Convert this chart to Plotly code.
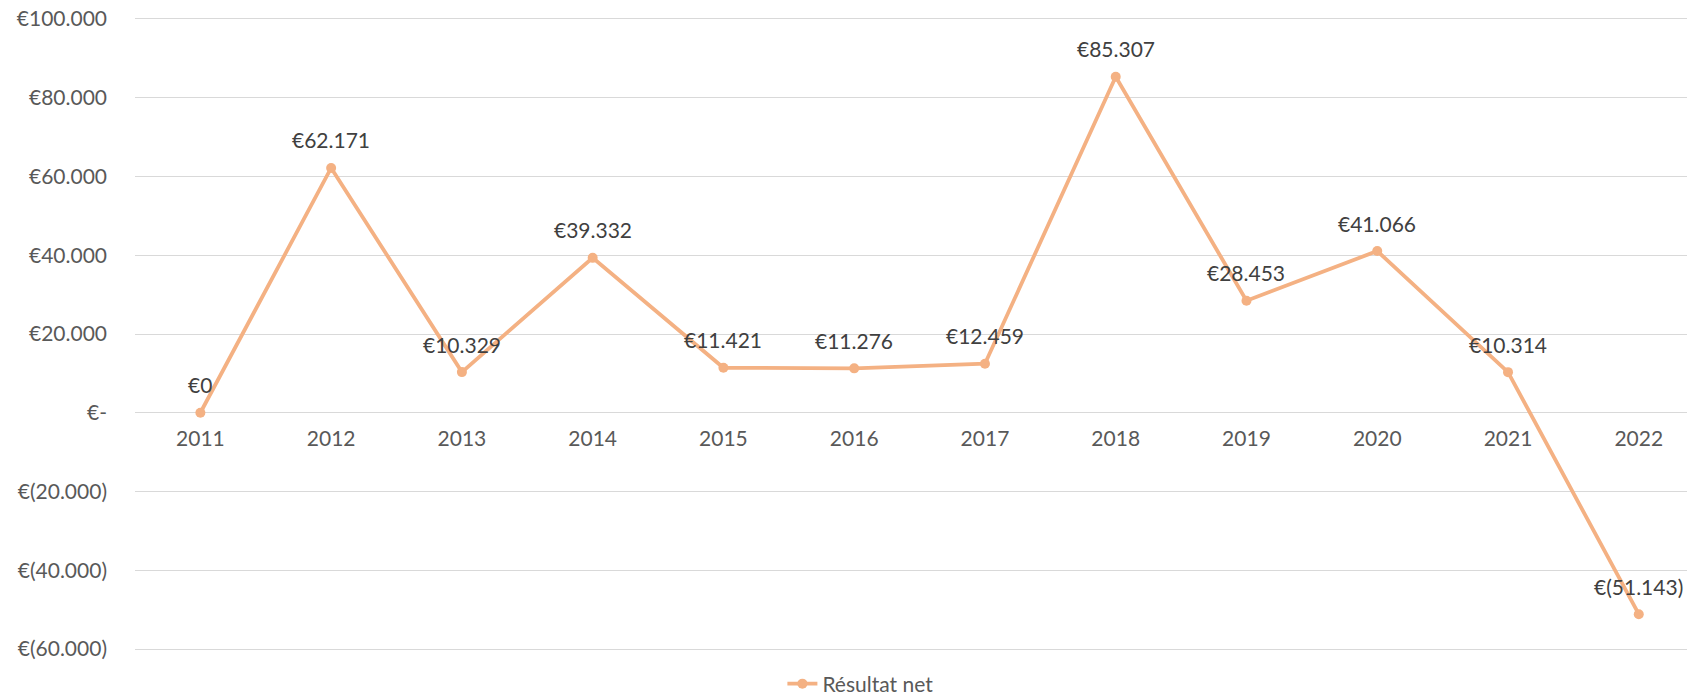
import plotly.graph_objects as go

years = ["2011", "2012", "2013", "2014", "2015", "2016", "2017", "2018", "2019", "2020", "2021", "2022"]
resultat_net = [0, 62171, 10329, 39332, 11421, 11276, 12459, 85307, 28453, 41066, 10314, -51143]
y_tick_vals = [100000, 80000, 60000, 40000, 20000, 0, -20000, -40000, -60000]
y_tick_text = ["€100.000", "€80.000", "€60.000", "€40.000", "€20.000", "€-",
               "€(20.000)", "€(40.000)", "€(60.000)"]
series_name = "Résultat net"


def fmt_eur(v):
    s = f"{abs(v):,}".replace(",", ".")
    return f"€({s})" if v < 0 else f"€{s}"


LINE = "#F4B183"
FONT = "Lato"
FS = 21

y_lo, y_hi = -61000, 101000

fig = go.Figure()
fig.add_trace(go.Scatter(
    x=years, y=resultat_net, mode="lines+markers", name=series_name,
    line=dict(color=LINE, width=3.8),
    marker=dict(color=LINE, size=10),
))

for i, v in enumerate(resultat_net):
    fig.add_annotation(x=i, y=v, xref="x", yref="y", text=fmt_eur(v), showarrow=False,
                       yshift=28, yanchor="middle", xanchor="center",
                       font=dict(family=FONT, size=FS, color="#404040"))

fig.update_layout(
    width=1687, height=689,
    margin=dict(l=127, r=0, t=7, b=44, autoexpand=False),
    paper_bgcolor="white", plot_bgcolor="white",
    font=dict(family=FONT, size=FS, color="#595959"),
    showlegend=True,
    legend=dict(orientation="h", x=0.465, xanchor="center", y=-0.0486, yanchor="middle",
                font=dict(family=FONT, size=FS, color="#595959")),
    xaxis=dict(type="category", range=[-0.5, 11.43], showgrid=False, showline=False,
               zeroline=False, anchor="free", position=(0 - y_lo) / (y_hi - y_lo), ticks="",
               ticklabelstandoff=11, automargin=False),
    yaxis=dict(range=[y_lo, y_hi], tickvals=y_tick_vals, ticktext=y_tick_text,
               showgrid=True, gridcolor="#D9D9D9", gridwidth=1.3, zeroline=False,
               showline=False, ticks="", ticklabelstandoff=27, automargin=False,
               ticklabeloverflow="allow"),
)

fig.write_html("out.html")
